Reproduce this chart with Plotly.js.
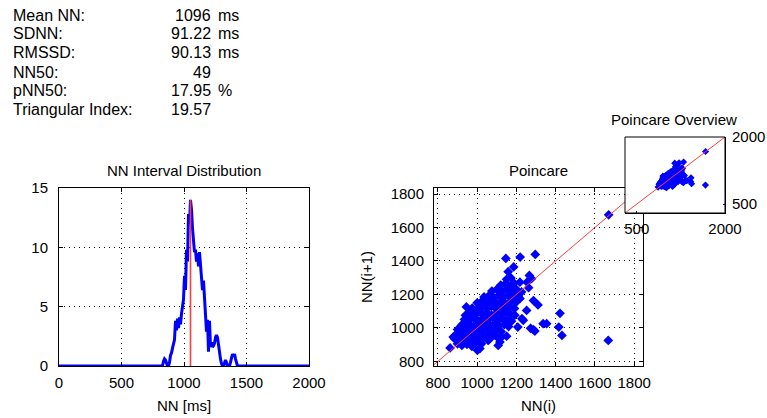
<!DOCTYPE html>
<html><head><meta charset="utf-8">
<script src="https://cdn.plot.ly/plotly-3.0.1.min.js"></script>
<style>html,body{margin:0;padding:0;background:#fff;}#chart{width:767px;height:418px;}</style>
</head><body><div id="chart"></div>
<script>
// ---- statistics text ----
const statLabels = ["Mean NN:", "SDNN:", "RMSSD:", "NN50:", "pNN50:", "Triangular Index:"];
const statValues = ["1096", "91.22", "90.13", "49", "17.95", "19.57"];
const statUnits  = ["ms", "ms", "ms", "", "%", ""];

// ---- NN interval distribution (bin centre ms, count) ----
const histX = [0, 828, 836, 844, 852, 860, 868, 876, 884, 892, 900, 908, 916, 924, 932, 940, 948, 956, 964, 972, 980, 988, 996, 1004, 1012, 1020, 1028, 1036, 1044, 1052, 1060, 1068, 1076, 1084, 1092, 1100, 1108, 1116, 1124, 1132, 1140, 1148, 1156, 1164, 1172, 1180, 1188, 1196, 1204, 1212, 1220, 1228, 1236, 1244, 1252, 1260, 1268, 1276, 1284, 1292, 1300, 1308, 1316, 1324, 1332, 1340, 1348, 1356, 1364, 1372, 1380, 1388, 1396, 1404, 1412, 1420, 1428, 2000];
const histY = [0, 0, 0.4, 0.6, 0.5, 0.2, 0, 0, 0.3, 0.9, 1.1, 1.5, 1.8, 2.2, 3.8, 3.0, 4.0, 3.2, 4.1, 3.5, 4.4, 5.3, 5.6, 7.6, 6.4, 9.8, 8.8, 12.8, 12.0, 14.0, 13.2, 11.6, 10.4, 9.6, 9.8, 8.8, 9.5, 8.4, 9.6, 8.6, 7.8, 6.4, 7.2, 6.0, 4.0, 2.9, 3.9, 1.2, 3.8, 1.6, 2.0, 1.6, 1.7, 1.9, 2.4, 2.6, 2.4, 1.6, 0.9, 0.6, 0.2, 0, 0, 0.2, 0.5, 0.3, 0, 0, 0, 0.3, 0.6, 1.0, 0.8, 1.0, 0.6, 0.2, 0, 0];

// ---- Poincare points: NN(i), NN(i+1) in ms ----
const nnI = [
 1670, 1668, 1422, 1416, 1432, 1336, 1354, 1272, 1286, 1294, 1287, 1310, 1296, 1219, 1146, 1186, 1158, 1266, 1277, 1254,
 1262, 1001, 1022, 862, 945, 1124, 1207, 1228, 1235, 1252, 1218, 1226, 1210, 1218, 1150, 1116, 1107, 1014, 1056, 878,
 929, 940, 965,
 900, 922, 948, 973, 990,
 885, 905, 930, 955, 980, 1005, 1030, 1060,
 890, 915, 940, 962, 988, 1012, 1038, 1063, 1085, 1100,
 900, 925, 950, 975, 1000, 1024, 1050, 1075, 1098, 1122,
 920, 945, 968, 992, 1016, 1040, 1065, 1088, 1112, 1138, 1160,
 935, 960, 985, 1008, 1032, 1056, 1080, 1105, 1128, 1152, 1175,
 955, 978, 1002, 1026, 1050, 1074, 1098, 1122, 1146, 1170, 1192,
 975, 1000, 1024, 1048, 1072, 1096, 1120, 1144, 1168, 1190,
 1000, 1025, 1050, 1074, 1098, 1122, 1146, 1170, 1195,
 1035, 1060, 1085, 1110, 1134, 1158, 1182, 1198,
 1075, 1100, 1125, 1150, 1175, 1196,
 1120, 1145, 1170, 1188,
 1150, 1172
];
const nnI1 = [
 1676, 925, 1087, 1005, 955, 1025, 1025, 997, 990, 981, 1163, 1137, 1439, 1423, 1415, 1364, 1336, 1313, 1294, 1273,
 1240, 866, 905, 880, 1125, 945, 1005, 1055, 1045, 1104, 1273, 1215, 1190, 1175, 950, 915, 895, 876, 925, 945,
 1025, 1075, 1100,
 905, 895, 902, 890, 908,
 935, 925, 930, 922, 935, 925, 938, 930,
 958, 965, 952, 968, 955, 962, 950, 965, 955, 948,
 990, 982, 995, 985, 992, 980, 995, 985, 990, 978,
 1015, 1025, 1012, 1022, 1010, 1028, 1015, 1025, 1012, 1020, 1008,
 1050, 1045, 1058, 1042, 1055, 1048, 1060, 1044, 1056, 1048, 1040,
 1085, 1078, 1092, 1080, 1090, 1076, 1088, 1080, 1094, 1082, 1076,
 1118, 1110, 1125, 1112, 1128, 1115, 1122, 1110, 1126, 1115,
 1150, 1160, 1148, 1162, 1150, 1158, 1145, 1160, 1150,
 1185, 1192, 1180, 1195, 1184, 1196, 1185, 1200,
 1220, 1230, 1218, 1232, 1222, 1235,
 1255, 1265, 1252, 1268,
 1290, 1298
];

// axis ranges (layout)
const histRange = [0, 2000];
const countRange = [0, 15];
const pcXRange = [780, 1845];
const pcYRange = [772, 1836];
const ovRange = [300, 2000];

const W = 767, H = 418;
const px = v => v / W;
const py = v => 1 - v / H;

const FONT = "Liberation Sans, Arial, Helvetica, sans-serif";
const FS = 15;
const FT = 16;
const BLUE = "#0000ff";
const RED = "#ff3b3b";

// mode of the histogram for the red marker line
let modeIdx = 0;
histY.forEach((v, i) => { if (v > histY[modeIdx]) modeIdx = i; });

const traces = [
  { type: "scatter", mode: "lines", x: histX, y: histY, xaxis: "x", yaxis: "y",
    line: { color: BLUE, width: 3 }, hoverinfo: "skip" },
  { type: "scatter", mode: "lines", x: [histX[modeIdx], histX[modeIdx]], y: [0, histY[modeIdx]],
    xaxis: "x", yaxis: "y", line: { color: RED, width: 1.6 }, hoverinfo: "skip" },
  { type: "scatter", mode: "markers", x: nnI, y: nnI1, xaxis: "x2", yaxis: "y2",
    marker: { symbol: "diamond", size: 7.5, color: BLUE, line: { width: 0 } }, hoverinfo: "skip" },
  { type: "scatter", mode: "lines", x: [pcXRange[0], pcXRange[1] + 200], y: [pcXRange[0], pcXRange[1] + 200],
    xaxis: "x2", yaxis: "y2", line: { color: RED, width: 1 }, hoverinfo: "skip" },
  { type: "scatter", mode: "markers", x: nnI, y: nnI1, xaxis: "x3", yaxis: "y3",
    marker: { symbol: "diamond", size: 5.5, color: BLUE, line: { width: 0 } }, hoverinfo: "skip" },
  { type: "scatter", mode: "lines", x: ovRange, y: ovRange, xaxis: "x3", yaxis: "y3",
    line: { color: RED, width: 1 }, hoverinfo: "skip" }
];

const baseAxis = {
  showline: true, linecolor: "#000", linewidth: 1, mirror: "ticks",
  ticks: "inside", ticklen: 4, tickcolor: "#000", tickwidth: 1,
  showgrid: true, gridcolor: "#000", gridwidth: 1, griddash: "1px,4px",
  zeroline: false, fixedrange: true,
  tickfont: { family: FONT, size: FS, color: "#000" }
};

const layout = {
  width: W, height: H,
  margin: { l: 0, r: 0, t: 0, b: 0, pad: 0 },
  paper_bgcolor: "#fff", plot_bgcolor: "#fff",
  showlegend: false,
  font: { family: FONT, size: FS, color: "#000" },
  xaxis: Object.assign({}, baseAxis, {
    domain: [px(59), px(309)], anchor: "y", range: histRange,
    tickvals: [0, 500, 1000, 1500, 2000], ticklabelstandoff: 3,
    title: { text: "NN [ms]", font: { family: FONT, size: FS }, standoff: 10 }
  }),
  yaxis: Object.assign({}, baseAxis, {
    domain: [py(366), py(188)], anchor: "x", range: countRange,
    tickvals: [0, 5, 10, 15], ticklabelstandoff: 7
  }),
  xaxis2: Object.assign({}, baseAxis, {
    domain: [px(434), px(643)], anchor: "y2", range: pcXRange,
    tickvals: [800, 1000, 1200, 1400, 1600, 1800], ticklabelstandoff: 3,
    title: { text: "NN(i)", font: { family: FONT, size: FS }, standoff: 10 }
  }),
  yaxis2: Object.assign({}, baseAxis, {
    domain: [py(366), py(188)], anchor: "x2", range: pcYRange,
    tickvals: [800, 1000, 1200, 1400, 1600, 1800], ticklabelstandoff: 6,
    title: { text: "NN(i+1)", font: { family: FONT, size: FS }, standoff: 14 }
  }),
  xaxis3: Object.assign({}, baseAxis, {
    domain: [px(625), px(725)], anchor: "y3", range: ovRange,
    tickvals: [500, 2000], showgrid: false, ticklen: 2, mirror: false, ticklabelstandoff: 2
  }),
  yaxis3: Object.assign({}, baseAxis, {
    domain: [py(213), py(137)], anchor: "x3", range: ovRange, side: "right",
    tickvals: [500, 2000], showgrid: false, ticklen: 2, mirror: false, ticklabelstandoff: 3
  }),
  shapes: [
    { type: "rect", xref: "paper", yref: "paper", x0: px(625), x1: px(725), y0: py(213), y1: py(137),
      line: { color: "#000", width: 1 }, fillcolor: "rgba(0,0,0,0)", layer: "above" }
  ],
  annotations: []
};

const lineY = [15, 33.5, 52.5, 72, 91, 109.5];
statLabels.forEach((t, i) => {
  layout.annotations.push({ xref: "paper", yref: "paper", x: px(11), y: py(lineY[i]), text: t,
    showarrow: false, xanchor: "left", yanchor: "middle", font: { family: FONT, size: FT, color: "#000" } });
  layout.annotations.push({ xref: "paper", yref: "paper", x: px(213), y: py(lineY[i]), text: statValues[i],
    showarrow: false, xanchor: "right", yanchor: "middle", font: { family: FONT, size: FT, color: "#000" } });
  if (statUnits[i]) layout.annotations.push({ xref: "paper", yref: "paper", x: px(216), y: py(lineY[i]), text: statUnits[i],
    showarrow: false, xanchor: "left", yanchor: "middle", font: { family: FONT, size: FT, color: "#000" } });
});
[["NN Interval Distribution", 184, 170], ["Poincare", 538, 170], ["Poincare Overview", 674, 119]].forEach(([t, x, y]) => {
  layout.annotations.push({ xref: "paper", yref: "paper", x: px(x), y: py(y), text: t, showarrow: false,
    xanchor: "center", yanchor: "middle", font: { family: FONT, size: FS, color: "#000" } });
});

Plotly.newPlot("chart", traces, layout, { staticPlot: true, displayModeBar: false });
</script>
</body></html>
